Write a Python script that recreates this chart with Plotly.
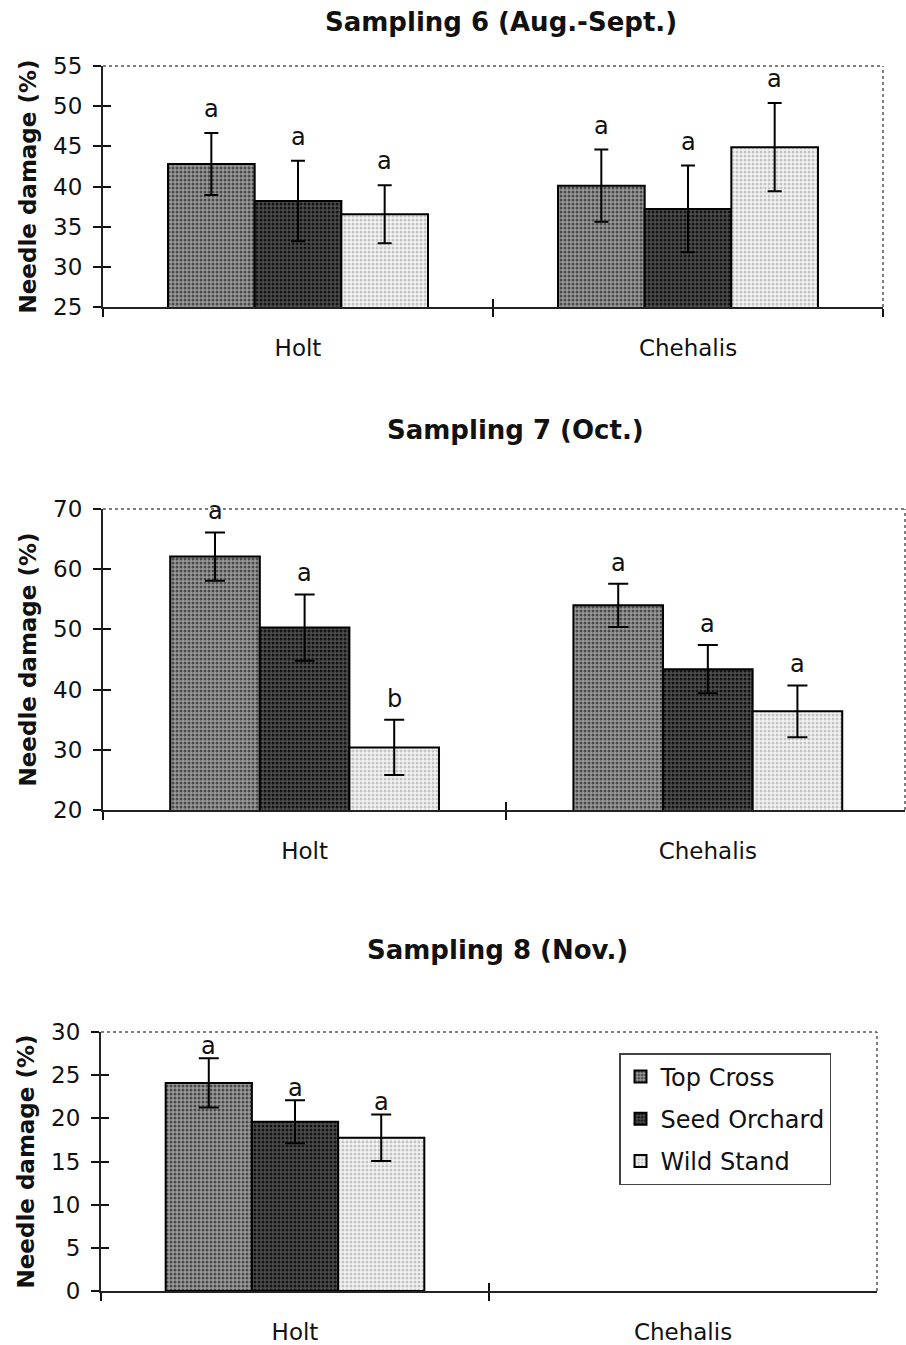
import plotly.graph_objects as go

W, H = 906, 1345

# ---- data -------------------------------------------------------------
sites = ["Holt", "Chehalis"]
series = ["Top Cross", "Seed Orchard", "Wild Stand"]

# Sampling 6 (Aug.-Sept.)
s6_top = [42.8, 40.1]
s6_top_err = [3.85, 4.5]
s6_seed = [38.2, 37.2]
s6_seed_err = [5.0, 5.4]
s6_wild = [36.55, 44.9]
s6_wild_err = [3.6, 5.5]
s6_letters = [["a", "a"], ["a", "a"], ["a", "a"]]

# Sampling 7 (Oct.)
s7_top = [62.1, 54.0]
s7_top_err = [4.0, 3.6]
s7_seed = [50.3, 43.4]
s7_seed_err = [5.5, 4.0]
s7_wild = [30.4, 36.4]
s7_wild_err = [4.6, 4.3]
s7_letters = [["a", "a"], ["a", "a"], ["b", "a"]]

# Sampling 8 (Nov.) - no Chehalis data
s8_top = [24.1, None]
s8_top_err = [2.85, None]
s8_seed = [19.6, None]
s8_seed_err = [2.5, None]
s8_wild = [17.75, None]
s8_wild_err = [2.7, None]
s8_letters = [["a", None], ["a", None], ["a", None]]

titles = ["Sampling 6 (Aug.-Sept.)", "Sampling 7 (Oct.)", "Sampling 8 (Nov.)"]
y_title = "Needle damage (%)"

# ---- styling ----------------------------------------------------------
FONT = "DejaVu Sans"
INK = "#111111"
fills = {
    "Top Cross": dict(bg="#9a9a9a", fg="#4a4a4a"),
    "Seed Orchard": dict(bg="#4e4e4e", fg="#141414"),
    "Wild Stand": dict(bg="#f4f4f4", fg="#c4c4c4"),
}

# pixel frames of the three plot areas: (left, right, top, bottom)
frames = [(103, 883, 66, 307), (103, 905, 509, 810), (101, 877, 1032, 1291)]
y_ranges = [(25, 55), (20, 70), (0, 30)]
y_dticks = [5, 10, 5]
x_ranges = [(-0.5, 1.5), (-0.5, 1.489), (-0.5, 1.5)]
title_pos = [(501, 22), (515, 430), (497, 950)]
letter_shift = [24, 21, 12]
cap_width = [7, 10, 10]

panels = [
    ((s6_top, s6_top_err), (s6_seed, s6_seed_err), (s6_wild, s6_wild_err), s6_letters),
    ((s7_top, s7_top_err), (s7_seed, s7_seed_err), (s7_wild, s7_wild_err), s7_letters),
    ((s8_top, s8_top_err), (s8_seed, s8_seed_err), (s8_wild, s8_wild_err), s8_letters),
]

fig = go.Figure()
annotations = []
shapes = []

for k, panel in enumerate(panels):
    n = k + 1
    xa, ya = f"x{'' if n == 1 else n}", f"y{'' if n == 1 else n}"
    twin_x, twin_y = f"x{n + 3}", f"y{n + 3}"
    left, right, top, bottom = frames[k]
    xdom = [left / W, right / W]
    ydom = [1 - bottom / H, 1 - top / H]

    for i, name in enumerate(series):
        vals, errs = panel[i]
        fig.add_trace(go.Bar(
            x=sites, y=vals, name=name, legendgroup=name,
            showlegend=(k == 2),
            xaxis=xa, yaxis=ya,
            marker=dict(
                color=fills[name]["bg"],
                line=dict(color="black", width=2),
                pattern=dict(shape=".", bgcolor=fills[name]["bg"],
                             fgcolor=fills[name]["fg"], size=4, solidity=0.45),
            ),
            error_y=dict(type="data", array=errs, color="black",
                         thickness=2, width=cap_width[k]),
        ))
        # significance letters above the error bars
        letters = panel[3][i]
        for j, letter in enumerate(letters):
            if letter is None or vals[j] is None:
                continue
            annotations.append(dict(
                x=j + (i - 1) * 2 / 9, y=vals[j] + errs[j],
                xref=xa, yref=ya, text=letter, showarrow=False,
                yanchor="middle", yshift=letter_shift[k],
                font=dict(family=FONT, size=24, color=INK),
            ))

    # twin axes give crossing tick marks
    fig.add_trace(go.Scatter(x=sites, y=[None, None], xaxis=twin_x, yaxis=twin_y,
                             mode="markers", showlegend=False, hoverinfo="skip"))

    fig.layout[f"xaxis{n}"] = dict(
        domain=xdom, anchor=ya, type="category", range=list(x_ranges[k]),
        tickson="boundaries", ticks="outside", ticklen=8, tickwidth=1.5,
        tickcolor=INK, showline=True, linecolor="#222222", linewidth=2,
        showgrid=False, zeroline=False, ticklabelstandoff=19, automargin=False,
        tickfont=dict(family=FONT, size=23, color=INK),
    )
    fig.layout[f"yaxis{n}"] = dict(
        domain=ydom, anchor=xa, range=list(y_ranges[k]), dtick=y_dticks[k],
        ticks="outside", ticklen=8, tickwidth=1.5, tickcolor=INK,
        showline=True, linecolor="#222222", linewidth=2,
        showgrid=False, zeroline=False, ticklabelstandoff=6, automargin=False,
        tickfont=dict(family=FONT, size=23, color=INK),
        title=dict(text=f"<b>{y_title}</b>", standoff=10,
                   font=dict(family=FONT, size=23, color=INK)),
    )
    fig.layout[f"xaxis{n + 3}"] = dict(
        overlaying=xa, anchor=twin_y, type="category", range=list(x_ranges[k]),
        tickson="boundaries", ticks="inside", ticklen=8, tickwidth=1.5,
        tickcolor=INK, showticklabels=False, showline=False, showgrid=False,
        zeroline=False, automargin=False,
    )
    fig.layout[f"yaxis{n + 3}"] = dict(
        overlaying=ya, anchor=twin_x, range=list(y_ranges[k]), dtick=y_dticks[k],
        ticks="inside", ticklen=8, tickwidth=1.5, tickcolor=INK,
        showticklabels=False, showline=False, showgrid=False, zeroline=False,
        automargin=False,
    )

    # dotted top and right borders of the plot area
    for x0, y0, x1, y1 in [(0, 1, 1, 1), (1, 0, 1, 1)]:
        shapes.append(dict(type="line", xref=f"{xa} domain", yref=f"{ya} domain",
                           x0=x0, y0=y0, x1=x1, y1=y1, layer="below",
                           line=dict(color="#555555", width=1.5, dash="dot")))

    tx, ty = title_pos[k]
    annotations.append(dict(
        x=tx / W, y=1 - ty / H, xref="paper", yref="paper",
        text=f"<b>{titles[k]}</b>", showarrow=False,
        xanchor="center", yanchor="middle",
        font=dict(family=FONT, size=26, color=INK),
    ))

fig.update_layout(
    template="none",
    width=W, height=H,
    margin=dict(l=0, r=0, t=0, b=0, autoexpand=False),
    paper_bgcolor="white", plot_bgcolor="white",
    barmode="group", bargap=1 / 3, bargroupgap=0,
    annotations=annotations, shapes=shapes,
    showlegend=True,
    legend=dict(
        x=619 / W, y=1 - 1053 / H, xanchor="left", yanchor="top",
        bgcolor="white", bordercolor="#444444", borderwidth=1.5,
        font=dict(family=FONT, size=24, color=INK),
        traceorder="grouped", tracegroupgap=8,
    ),
    font=dict(family=FONT, color=INK),
)

fig.write_html("out.html")
